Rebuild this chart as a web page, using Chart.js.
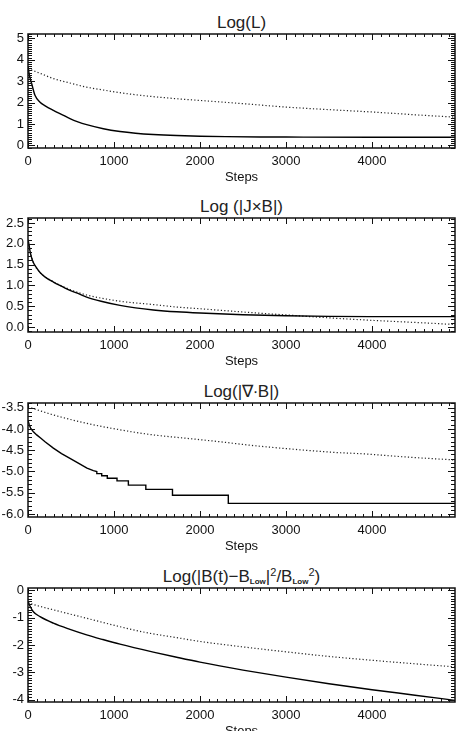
<!DOCTYPE html>
<html>
<head>
<meta charset="utf-8">
<script src="https://cdn.jsdelivr.net/npm/chart.js@4"></script>
<style>
  body { margin: 0; width: 465px; height: 731px; overflow: hidden; background: #fff; position: relative; }
  canvas { position: absolute; left: 0; }
  .titulo { position: absolute; left: 28px; width: 427px; height: 20px; text-align: center; font: 17px "Liberation Sans", Arial, sans-serif; line-height: 20px; color: #222; white-space: nowrap; }
  .titulo sub { font-size: 8px; line-height: 0; vertical-align: -2px; font-weight: bold; }
  .titulo sup { font-size: 11px; line-height: 0; vertical-align: 6px; }
</style>
</head>
<body>
<div class="titulo" style="top:13px">Log(L)</div>
<div class="titulo" style="top:197px">Log (|J×B|)</div>
<div class="titulo" style="top:382px">Log(|∇∙B|)</div>
<div class="titulo" style="top:567px">Log(|B(t)−B<sub>Low</sub>|<sup>2</sup>/B<sub>Low</sub><sup>2</sup>)</div>
<canvas id="g1" width="465" height="190" style="top:0px"></canvas>
<canvas id="g2" width="465" height="190" style="top:184px"></canvas>
<canvas id="g3" width="465" height="190" style="top:369px"></canvas>
<canvas id="g4" width="465" height="190" style="top:554px"></canvas>
<script>
// Datos
const ticksX = [0, 1000, 2000, 3000, 4000];
const pasoMaximo = 4965;

// Panel 1: Log(L)
const pasosL = [0, 15, 43, 81, 140, 200, 295, 400, 488, 580, 682, 876, 1070, 1250, 1457, 1729, 2000, 2300, 2700, 3000, 4000, 4965];
const solidoL = [3.70, 3.30, 2.88, 2.34, 2.02, 1.85, 1.64, 1.43, 1.25, 1.10, 0.97, 0.78, 0.65, 0.57, 0.51, 0.46, 0.43, 0.41, 0.395, 0.39, 0.38, 0.38];
const pasosLp = [0, 150, 295, 480, 682, 900, 1070, 1400, 1729, 2000, 2500, 3000, 3500, 4000, 4500, 4965];
const puntosL = [3.58, 3.35, 3.12, 2.92, 2.72, 2.57, 2.46, 2.30, 2.18, 2.10, 1.95, 1.79, 1.67, 1.56, 1.43, 1.32];
const ticksY1 = [0, 1, 2, 3, 4, 5];

// Panel 2: Log(|JxB|)
const pasosJ = [0, 10, 23, 40, 62, 100, 140, 200, 295, 400, 488, 600, 682, 850, 1070, 1250, 1457, 1729, 2000, 2500, 3000, 3500, 4000, 4965];
const solidoJ = [2.10, 2.00, 1.83, 1.68, 1.55, 1.42, 1.31, 1.20, 1.08, 0.97, 0.88, 0.79, 0.72, 0.62, 0.52, 0.46, 0.41, 0.365, 0.335, 0.295, 0.27, 0.255, 0.25, 0.25];
const pasosJp = [0, 23, 62, 140, 295, 488, 682, 1070, 1457, 1729, 2000, 2500, 3000, 3500, 4000, 4500, 4965];
const puntosJ = [2.05, 1.80, 1.55, 1.31, 1.09, 0.90, 0.77, 0.62, 0.54, 0.48, 0.44, 0.36, 0.29, 0.22, 0.16, 0.11, 0.06];
const ticksY2 = [0, 0.5, 1, 1.5, 2, 2.5];

// Panel 3: Log(|div B|)
const pasosD = [0, 15, 30, 60, 101, 150, 198, 295, 390, 488, 590, 686, 760, 800, 800, 857, 857, 922, 922, 1035, 1035, 1167, 1167, 1370, 1370, 1680, 1680, 2329, 2329, 4965];
const solidoD = [-3.80, -3.90, -3.98, -4.06, -4.14, -4.22, -4.30, -4.45, -4.58, -4.69, -4.81, -4.92, -4.98, -5.00, -5.05, -5.05, -5.10, -5.10, -5.16, -5.16, -5.22, -5.22, -5.32, -5.32, -5.42, -5.42, -5.56, -5.56, -5.75, -5.75];
const pasosDp = [0, 295, 686, 1070, 1457, 1845, 2229, 2616, 3163, 3550, 3938, 4326, 4965];
const puntosD = [-3.48, -3.67, -3.87, -4.02, -4.14, -4.22, -4.30, -4.39, -4.49, -4.55, -4.59, -4.65, -4.73];
const ticksY3 = [-6, -5.5, -5, -4.5, -4, -3.5];

// Panel 4: Log(|B(t)-BLow|^2/BLow^2)
const pasosB = [0, 20, 62, 140, 295, 480, 682, 870, 1070, 1457, 1729, 2000, 2500, 3000, 3500, 4000, 4500, 4965];
const solidoB = [-0.40, -0.55, -0.78, -0.96, -1.20, -1.42, -1.63, -1.80, -1.97, -2.26, -2.45, -2.63, -2.92, -3.18, -3.42, -3.64, -3.84, -4.03];
const pasosBp = [0, 100, 295, 682, 1070, 1400, 1729, 2000, 2500, 3000, 3500, 4000, 4500, 4965];
const puntosB = [-0.45, -0.55, -0.71, -1.02, -1.33, -1.56, -1.73, -1.87, -2.07, -2.25, -2.42, -2.56, -2.69, -2.80];
const ticksY4 = [-4, -3, -2, -1, 0];

const fuente = { family: "'Liberation Sans', Arial, sans-serif", size: 13 };

// Marco y marcas hacia adentro (estilo IDL)
const marcoIDL = {
  id: 'marcoIDL',
  afterDatasetsDraw(chart, args, opts) {
    const { ctx, chartArea: a, scales: { x, y } } = chart;
    const menor = opts.menor || 0.1;
    const mayor = opts.mayor || 1;
    ctx.save();
    ctx.strokeStyle = '#111';
    ctx.lineWidth = 1;
    ctx.beginPath();
    for (let v = 0; v <= x.max; v += 100) {
      const px = Math.round(x.getPixelForValue(v)) + 0.5;
      const largo = v % 1000 === 0 ? 6 : 3;
      ctx.moveTo(px, a.bottom); ctx.lineTo(px, a.bottom - largo);
      ctx.moveTo(px, a.top); ctx.lineTo(px, a.top + largo);
    }
    const k0 = Math.ceil(y.min / menor - 1e-6);
    const k1 = Math.floor(y.max / menor + 1e-6);
    for (let k = k0; k <= k1; k++) {
      const v = k * menor;
      const py = Math.round(y.getPixelForValue(v)) + 0.5;
      const r = v / mayor;
      const largo = Math.abs(r - Math.round(r)) < 1e-6 ? 7 : 4;
      ctx.moveTo(a.left, py); ctx.lineTo(a.left + largo, py);
      ctx.moveTo(a.right, py); ctx.lineTo(a.right - largo, py);
    }
    ctx.stroke();
    ctx.lineWidth = 1.5;
    ctx.strokeRect(a.left, a.top, a.right - a.left, a.bottom - a.top);
    ctx.restore();
  }
};

function juntar(pasos, valores) {
  return pasos.map((p, i) => ({ x: p, y: valores[i] }));
}

// Función que crea cada panel
function crearGrafico(id, pasosA, valoresA, pasosB, valoresB, yMin, yMax, ticksY, decimales, mayor, escalonada) {
  const ctx = document.getElementById(id).getContext('2d');
  return new Chart(ctx, {
    type: 'line',
    data: {
      datasets: [
        {
          data: juntar(pasosA, valoresA),
          borderColor: '#000',
          borderWidth: 1.4,
          pointRadius: 0,
          cubicInterpolationMode: escalonada ? 'default' : 'monotone',
          tension: 0
        },
        {
          data: juntar(pasosB, valoresB),
          borderColor: '#222',
          borderWidth: 1.2,
          borderDash: [1.2, 2.2],
          pointRadius: 0,
          cubicInterpolationMode: 'monotone'
        }
      ]
    },
    options: {
      responsive: false,
      animation: false,
      devicePixelRatio: 1,
      layout: { padding: { top: 34, right: 10, left: 0, bottom: 5 } },
      plugins: {
        legend: { display: false },
        tooltip: { enabled: false },
        marcoIDL: { menor: 0.1, mayor: mayor }
      },
      scales: {
        x: {
          type: 'linear',
          min: 0,
          max: pasoMaximo,
          afterBuildTicks: s => { s.ticks = ticksX.map(v => ({ value: v })); },
          afterFit: s => { s.height = 37; },
          ticks: { font: fuente, color: '#111', padding: 6, maxRotation: 0, autoSkip: false, callback: v => String(v) },
          grid: { display: false, drawTicks: false },
          border: { display: false },
          title: { display: true, text: 'Steps', font: fuente, color: '#111', padding: { top: 0, bottom: 0 } }
        },
        y: {
          min: yMin,
          max: yMax,
          afterBuildTicks: s => { s.ticks = ticksY.map(v => ({ value: v })); },
          afterFit: s => { s.width = 28; },
          ticks: { font: fuente, color: '#111', padding: 4, callback: v => v.toFixed(decimales) },
          grid: { display: false, drawTicks: false },
          border: { display: false }
        }
      }
    },
    plugins: [marcoIDL]
  });
}

crearGrafico('g1', pasosL, solidoL, pasosLp, puntosL, -0.12, 5.2, ticksY1, 0, 1, false);
crearGrafico('g2', pasosJ, solidoJ, pasosJp, puntosJ, -0.12, 2.62, ticksY2, 1, 0.5, false);
crearGrafico('g3', pasosD, solidoD, pasosDp, puntosD, -6.07, -3.39, ticksY3, 1, 0.5, true);
crearGrafico('g4', pasosB, solidoB, pasosBp, puntosB, -4.09, 0.09, ticksY4, 0, 1, false);
</script>
</body>
</html>
